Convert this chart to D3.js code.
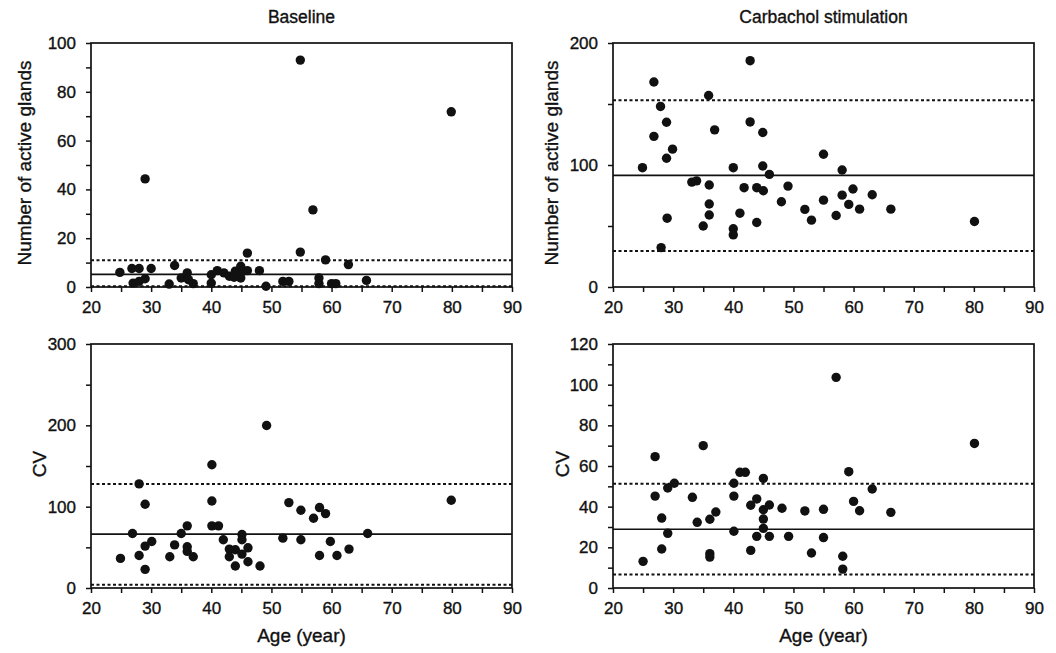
<!DOCTYPE html>
<html>
<head>
<meta charset="utf-8">
<script src="https://cdn.jsdelivr.net/npm/d3@7"></script>
<style>
  body { margin: 0; background: #fff; }
  svg { font-family: "Liberation Sans", Arial, sans-serif; }
  .axis path, .axis line { stroke: #111; stroke-width: 1.5; }
</style>
</head>
<body>
<svg id="chart" width="1056" height="653"></svg>
<script>
// age (year), value
var baselineGlands = [
  [24.8,6],[26.8,7.6],[28,7.6],[27,1.6],[28,2.3],[29,3.4],[29,44.3],[30,7.6],
  [33,1.2],[33.9,8.8],[35,3.7],[36,5.8],[36.2,3],[37,1.4],[40,1.6],[40,5],
  [41,6.7],[42.1,5.8],[43,4.4],[43.8,4],[44,6.5],[44.9,3.7],[44.9,8.5],[45.3,6.5],
  [46,6.7],[46,13.9],[48,6.7],[49.1,0.3],[51.9,2.3],[52.9,2.3],[54.8,93],[54.8,14.3],
  [56.9,31.6],[57.9,3.7],[57.9,1.4],[59,11.1],[60,1.4],[60.7,1.4],[62.8,9.2],[65.8,2.7],[79.9,71.8]
];
var carbacholGlands = [
  [24.9,97.8],[26.8,168],[26.8,123.5],[27.9,148],[28,32.3],[28.9,135],[28.9,105.5],[29.9,113],
  [29,56.4],[33.1,86],[33.9,87],[35,50],[35.9,157],[36,83.6],[36,68],[36,59],
  [36.9,128.8],[40,97.8],[40,47.7],[40,42.7],[41.1,60.5],[41.8,81.4],[42.8,185.5],[42.8,135.3],
  [43.9,81.4],[43.9,52.9],[44.9,126.6],[44.9,99.2],[45,78.9],[46,92.3],[48,69.9],[49.1,82.7],
  [51.9,63.6],[53,54.8],[55,108.8],[55,71.2],[57.1,58.6],[58.1,95.9],[58.1,75.3],[59.2,67.7],
  [59.9,80.3],[61,63.8],[63.1,75.6],[66.2,63.8],[80.1,53.7]
];
var baselineCV = [
  [24.9,36.4],[26.9,67],[28,128],[28,40],[29,103],[29,51.5],[29,22.9],[30.1,57.2],
  [33.1,38.4],[33.9,53],[35,67],[36,76.4],[36,50.7],[36,45],[37,38.4],[40.1,151.6],
  [40.1,107],[40.1,76.4],[41.2,76.4],[42,59.3],[43,47.8],[43,38.4],[44,47],[44,27],
  [45.1,65.8],[45.1,59.3],[45.1,41.7],[46.1,49.4],[46.1,32.3],[48.1,27],[49.2,199.8],[51.9,61.3],
  [52.9,105],[54.9,95.6],[54.9,59.3],[57,85.8],[58,98.9],[58,40],[59,91.5],[59.8,57.2],
  [60.9,40],[62.9,47.8],[66,67],[79.9,107.9]
];
var carbacholCV = [
  [25,13.1],[27,64.6],[27,45.2],[28.1,34.4],[28.1,19.2],[29.1,49.2],[29.1,26.9],[30.2,51.5],
  [33.2,44.6],[34,32.3],[35,70],[36.1,33.8],[36.1,16.9],[36.1,15.2],[37.1,37.4],[40.1,51.5],
  [40.1,45.2],[40.1,27.9],[41.1,56.9],[42,56.9],[42.9,40.7],[42.9,18.5],[43.9,43.8],[43.9,25.4],
  [45,53.9],[45,38.5],[45,33.9],[45,29.3],[46,40.8],[46,25.4],[48.1,39.2],[49.2,25.4],
  [51.9,37.9],[53,17.2],[55,38.7],[55,24.8],[57.1,103.6],[58.2,15.6],[58.2,9.3],[59.2,57.2],
  [60,42.6],[61,38],[63.1,48.7],[66.2,37.2],[80.1,71.1]
];
// mean line and upper/lower dotted limits
var baselineGlandsLines = [5.2, 11, 0.3];
var carbacholGlandsLines = [91.5, 153, 29.6];
var baselineCVLines = [66.2, 128, 4];
var carbacholCVLines = [28.9, 51.3, 6.6];

var ageTicks = [20,25,30,35,40,45,50,55,60,65,70,75,80,85,90];
var ageLabels = [20,30,40,50,60,70,80,90];

var panels = [
  {x: 91, y: 43, title: "Baseline", ylabel: "Number of active glands", labelDx: 60, ymax: 100, step: 10, labelStep: 20,
   data: baselineGlands, lines: baselineGlandsLines, xtitle: false},
  {x: 613, y: 43, title: "Carbachol stimulation", ylabel: "Number of active glands", labelDx: 55, ymax: 200, step: 50, labelStep: 100,
   data: carbacholGlands, lines: carbacholGlandsLines, xtitle: false},
  {x: 91, y: 344, title: null, ylabel: "CV", labelDx: 45, ymax: 300, step: 50, labelStep: 100,
   data: baselineCV, lines: baselineCVLines, xtitle: true},
  {x: 613, y: 344, title: null, ylabel: "CV", labelDx: 44, ymax: 120, step: 10, labelStep: 20,
   data: carbacholCV, lines: carbacholCVLines, xtitle: true}
];

var w = 421, h = 244;
var svg = d3.select("#chart");

function styleText(sel, size) {
  sel.style("font-family", '"Liberation Sans", Arial, sans-serif')
    .style("font-size", size + "px")
    .attr("fill", "#111")
    .attr("stroke", "#111").attr("stroke-width", 0.35);
}

panels.forEach(function(p) {
  var g = svg.append("g").attr("transform", "translate(" + p.x + "," + p.y + ")");
  var x = d3.scaleLinear().domain([20, 90]).range([0, w]);
  var y = d3.scaleLinear().domain([0, p.ymax]).range([h, 0]);

  var yt = d3.range(0, p.ymax + 0.001, p.step);

  var ya = g.append("g").attr("class", "axis")
    .call(d3.axisLeft(y).tickValues(yt).tickSize(5).tickPadding(10)
      .tickFormat(function(d) { return d % p.labelStep === 0 ? d : ""; }));
  styleText(ya.selectAll("text"), 17);

  var xa = g.append("g").attr("class", "axis")
    .attr("transform", "translate(0," + h + ")")
    .call(d3.axisBottom(x).tickValues(ageTicks).tickSize(5).tickPadding(9)
      .tickFormat(function(d) { return ageLabels.indexOf(d) >= 0 ? d : ""; }));
  styleText(xa.selectAll("text"), 17);

  g.selectAll(".axis .domain").remove();
  g.append("rect")
    .attr("width", w).attr("height", h)
    .attr("fill", "none").attr("stroke", "#111").attr("stroke-width", 1.7);

  g.append("line")
    .attr("x1", 0).attr("x2", w)
    .attr("y1", y(p.lines[0])).attr("y2", y(p.lines[0]))
    .attr("stroke", "#111").attr("stroke-width", 1.7);
  g.selectAll(".lim").data(p.lines.slice(1)).enter().append("line")
    .attr("x1", 0).attr("x2", w)
    .attr("y1", function(d) { return y(d); }).attr("y2", function(d) { return y(d); })
    .attr("stroke", "#111").attr("stroke-width", 2)
    .attr("stroke-dasharray", "3,2.5");

  g.selectAll("circle").data(p.data).enter().append("circle")
    .attr("cx", function(d) { return x(d[0]); })
    .attr("cy", function(d) { return y(d[1]); })
    .attr("r", 4.7)
    .attr("fill", "#111");

  if (p.title) {
    svg.append("text")
      .attr("x", p.x + w / 2).attr("y", 23)
      .attr("text-anchor", "middle")
      .call(styleText, 17.5)
      .text(p.title);
  }
  svg.append("text")
    .attr("transform", "translate(" + (p.x - p.labelDx) + "," + (p.y + h / 2 - 2) + ") rotate(-90)")
    .attr("text-anchor", "middle")
    .call(styleText, 19)
    .text(p.ylabel);
  if (p.xtitle) {
    svg.append("text")
      .attr("x", p.x + w / 2).attr("y", p.y + h + 54)
      .attr("text-anchor", "middle")
      .call(styleText, 19)
      .text("Age (year)");
  }
});
</script>
</body>
</html>
